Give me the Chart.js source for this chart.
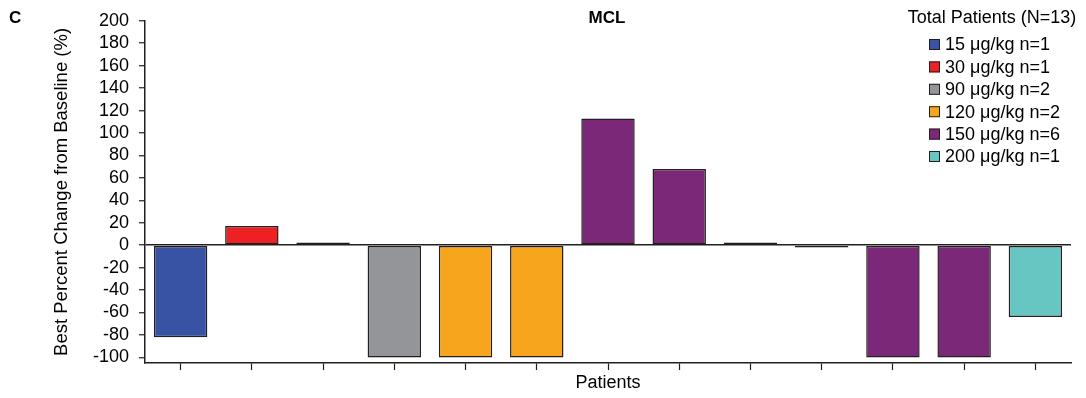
<!DOCTYPE html>
<html>
<head>
<meta charset="utf-8">
<script src="https://cdn.jsdelivr.net/npm/chart.js@4.4.1/dist/chart.umd.min.js"></script>
<style>
  html, body { margin: 0; padding: 0; background: #fff; }
  #wrap { width: 1086px; height: 398px; }
</style>
</head>
<body>
<div id="wrap"><canvas id="mclChart" width="1086" height="398"></canvas></div>
<script>
// data
const patients = ['1','2','3','4','5','6','7','8','9','10','11','12','13'];
const bestChange = [-82, 17, 2.5, -100, -100, -100, 113, 68, 2.4, -2, -100, -100, -64];
const patientDose = [0, 1, 2, 2, 3, 3, 4, 4, 4, 4, 4, 4, 5];

const doseLabels = ['15 μg/kg', '30 μg/kg', '90 μg/kg', '120 μg/kg', '150 μg/kg', '200 μg/kg'];
const doseCounts = [1, 1, 2, 2, 6, 1];
const doseColors = ['#3853a4', '#ed2024', '#939598', '#f7a51c', '#7b2879', '#67c6c1'];

const yTicks = [200, 180, 160, 140, 120, 100, 80, 60, 40, 20, 0, -20, -40, -60, -80, -100];

const ink = '#231f20';
const fontFam = '"Liberation Sans", Arial, Helvetica, sans-serif';

// legend + panel letter + title, drawn on top
const extras = {
    id: 'extras',
    afterDraw(chart) {
        const ctx = chart.ctx;
        ctx.save();
        ctx.fillStyle = '#000';
        ctx.textBaseline = 'middle';

        ctx.font = 'bold 17px ' + fontFam;
        ctx.textAlign = 'left';
        ctx.fillText('C', 9, 18);
        ctx.textAlign = 'center';
        ctx.fillText('MCL', 607, 18);

        ctx.font = '18px ' + fontFam;
        ctx.fillText('Total Patients (N=' + bestChange.length + ')', 992, 18);

        ctx.textAlign = 'left';
        doseLabels.forEach((lab, i) => {
            const y = 44.5 + i * 22.4;
            ctx.fillStyle = doseColors[i];
            ctx.fillRect(929, y - 5.5, 11, 11);
            ctx.strokeStyle = ink;
            ctx.lineWidth = 1;
            ctx.strokeRect(929.5, y - 5, 10, 10);
            ctx.fillStyle = '#000';
            ctx.fillText(lab + ' n=' + doseCounts[i], 945, y + 1);
        });
        ctx.restore();
    }
};

const ctx = document.getElementById('mclChart').getContext('2d');
new Chart(ctx, {
    type: 'bar',
    data: {
        labels: patients,
        datasets: [{
            data: bestChange,
            backgroundColor: patientDose.map(d => doseColors[d]),
            borderColor: ink,
            borderWidth: 1.5,
            borderSkipped: false,
            barPercentage: 0.75,
            categoryPercentage: 1
        }]
    },
    options: {
        responsive: false,
        animation: false,
        layout: { padding: { top: 20, right: 15, left: 0, bottom: 0 } },
        plugins: {
            legend: { display: false },
            tooltip: { enabled: false }
        },
        scales: {
            x: {
                offset: true,
                grid: {
                    display: true,
                    drawOnChartArea: false,
                    drawTicks: true,
                    tickLength: 7,
                    offset: false,
                    tickColor: ink,
                    tickWidth: 1.2
                },
                border: { color: ink, width: 1.5 },
                ticks: { autoSkip: false, callback: () => '', font: { size: 1 }, padding: 0 },
                title: {
                    display: true,
                    text: 'Patients',
                    color: '#000',
                    font: { family: fontFam, size: 18 },
                    padding: { top: 0, bottom: 4 }
                },
                afterFit(scale) { scale.height = 35; }
            },
            y: {
                min: -105,
                max: 200,
                afterBuildTicks(scale) {
                    scale.ticks = yTicks.map(v => ({ value: v }));
                },
                grid: {
                    drawTicks: true,
                    tickLength: 6,
                    tickColor: ink,
                    tickWidth: 1.2,
                    lineWidth: 1.5,
                    color: c => (c.tick && c.tick.value === 0) ? ink : 'rgba(0,0,0,0)'
                },
                border: { color: ink, width: 1.5 },
                ticks: {
                    autoSkip: false,
                    color: '#000',
                    padding: 10,
                    font: { family: fontFam, size: 18 }
                },
                title: {
                    display: true,
                    text: 'Best Percent Change from Baseline (%)',
                    color: '#000',
                    font: { family: fontFam, size: 18.5 },
                    padding: { top: 51, bottom: 0 }
                },
                afterFit(scale) { scale.width = 145; }
            }
        }
    },
    plugins: [extras]
});
</script>
</body>
</html>
